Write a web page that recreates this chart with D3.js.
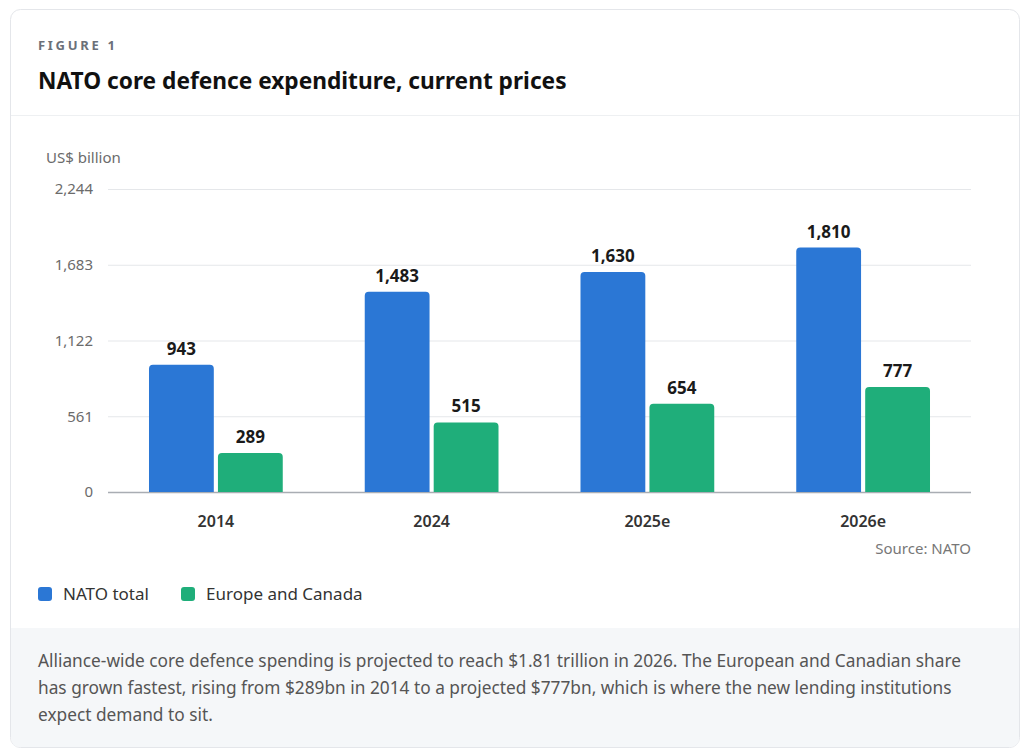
<!DOCTYPE html>
<html>
<head>
<meta charset="utf-8">
<script src="https://cdn.jsdelivr.net/npm/d3@7"></script>
<style>
  body { margin: 0; background: #fff; font-family: "Noto Sans", "Open Sans", sans-serif; }
  svg text { font-family: "Noto Sans", "Open Sans", sans-serif; }
</style>
</head>
<body>
<main></main>
<script>
// chart values
const years = ['2014', '2024', '2025e', '2026e'];
const series = ['NATO total', 'Europe and Canada'];
const natoTotal = [943, 1483, 1630, 1810];
const europeCanada = [289, 515, 654, 777];
const yTicks = [0, 561, 1122, 1683, 2244];
const colors = ['#2b77d5', '#1fae7a'];
const noteLines = [
    'Alliance-wide core defence spending is projected to reach $1.81 trillion in 2026. The European and Canadian share',
    'has grown fastest, rising from $289bn in 2014 to a projected $777bn, which is where the new lending institutions',
    'expect demand to sit.'
];

const w = 1024;
const h = 756;
const svg = d3.select('main').append('svg').attr('width', w).attr('height', h);

// card + footer
svg.append('rect').attr('x', 10.5).attr('y', 9.5).attr('width', 1009).attr('height', 738)
    .attr('rx', 10).attr('fill', '#fff').attr('stroke', '#e4e6ea');
svg.append('path')
    .attr('d', 'M11,628 H1019 V737 Q1019,747 1009,747 H21 Q11,747 11,737 Z')
    .attr('fill', '#f5f7f9');
svg.append('line').attr('x1', 11).attr('x2', 1019).attr('y1', 115.5).attr('y2', 115.5)
    .attr('stroke', '#eef0f2');

svg.append('text').attr('x', 38).attr('y', 50).text('FIGURE 1')
    .attr('font-size', 13).attr('font-weight', 700).attr('letter-spacing', 2.7).attr('fill', '#6b7079');
svg.append('text').attr('x', 38).attr('y', 89).text('NATO core defence expenditure, current prices')
    .attr('font-size', 22.7).attr('font-weight', 700).attr('fill', '#111');

// scales
const x0 = d3.scaleBand().domain(years).range([108, 971]).paddingInner(0.38).paddingOuter(0.19);
const x1 = d3.scaleBand().domain(series).range([0, x0.bandwidth()]).paddingInner(0.06);
const y = d3.scaleLinear().domain([0, 2244]).range([492, 189]);
const color = d3.scaleOrdinal().domain(series).range(colors);

svg.append('text').attr('x', 46).attr('y', 163).text('US$ billion')
    .attr('font-size', 15).attr('fill', '#6b6b6b');

const yAxis = svg.append('g').attr('transform', 'translate(108,0)')
    .call(d3.axisLeft(y).tickValues(yTicks).tickSize(-863).tickFormat(d3.format(',')));
yAxis.select('.domain').remove();
yAxis.selectAll('.tick line').attr('stroke', '#e5e7ea');
yAxis.selectAll('.tick text').attr('x', -15).attr('font-size', 15).attr('fill', '#6b6b6b');
yAxis.selectAll('.tick').filter(d => d === 0).select('line').attr('stroke', '#a9adb3').attr('stroke-width', 1.5);

const xAxis = svg.append('g').attr('transform', 'translate(0,492)')
    .call(d3.axisBottom(x0).tickSize(0).tickPadding(24));
xAxis.select('.domain').remove();
xAxis.selectAll('.tick text').attr('font-size', 16).attr('font-weight', 600).attr('fill', '#333');

const rows = years.map((yr, i) => ({ year: yr, values: [natoTotal[i], europeCanada[i]] }));

const barPath = (bx, by, bw, bh, r) =>
    `M${bx},${by + bh} V${by + r} Q${bx},${by} ${bx + r},${by} H${bx + bw - r} Q${bx + bw},${by} ${bx + bw},${by + r} V${by + bh} Z`;

const group = svg.selectAll('g.grp')
    .data(rows)
    .enter()
    .append('g')
    .attr('class', 'grp')
    .attr('transform', d => `translate(${x0(d.year)},0)`);

const bar = group.selectAll('g.bar')
    .data(d => d.values.map((v, i) => ({ key: series[i], value: v })))
    .enter()
    .append('g')
    .attr('class', 'bar');
bar.append('path')
    .attr('d', d => barPath(x1(d.key), y(d.value), x1.bandwidth(), y(0) - y(d.value), 4))
    .attr('fill', d => color(d.key));
bar.append('text')
    .attr('x', d => x1(d.key) + x1.bandwidth() / 2)
    .attr('y', d => y(d.value) - 10)
    .attr('text-anchor', 'middle')
    .attr('font-size', 17)
    .attr('font-weight', 700)
    .attr('fill', '#1a1a1a')
    .text(d => d3.format(',')(d.value));

svg.append('text').attr('x', 971).attr('y', 554).attr('text-anchor', 'end')
    .text('Source: NATO').attr('font-size', 15).attr('fill', '#777');

// legend
const legendX = [38, 181];
const legend = svg.selectAll('g.legend')
    .data(series)
    .enter()
    .append('g')
    .attr('class', 'legend')
    .attr('transform', (d, i) => `translate(${legendX[i]},587)`);
legend.append('rect').attr('width', 14).attr('height', 14).attr('rx', 3).attr('fill', d => color(d));
legend.append('text').attr('x', 25).attr('y', 13).text(d => d)
    .attr('font-size', 17).attr('fill', '#333');

svg.append('g').selectAll('text')
    .data(noteLines)
    .enter()
    .append('text')
    .attr('x', 38)
    .attr('y', (d, i) => 667 + 27 * i)
    .attr('font-size', 17.3)
    .attr('fill', '#555')
    .text(d => d);
</script>
</body>
</html>
